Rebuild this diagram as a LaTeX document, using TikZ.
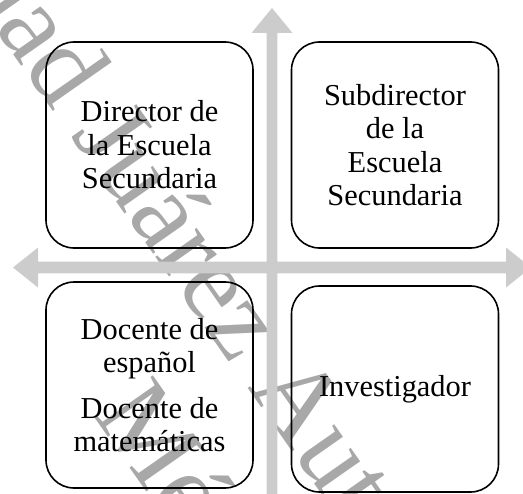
\documentclass[tikz,border=0pt]{standalone}
\usepackage{fontspec}
\setmainfont{Liberation Serif}
\definecolor{arrowgray}{RGB}{204,204,204}
\definecolor{wmgray}{RGB}{168,168,168}
\tikzset{
  quadbox/.style={draw=black, line width=1.6bp, rounded corners=28bp, minimum width=207bp, minimum height=206bp, align=center, inner sep=0pt, font=\fontsize{30.4bp}{33.5bp}\selectfont},
  wmark/.style={text=wmgray, rotate=-55, anchor=base west, inner sep=0pt, font=\fontsize{110bp}{120bp}\selectfont},
  crossarrow/.style={fill=arrowgray, draw=none}
}
\begin{document}
\begin{tikzpicture}[x=1bp, y=-1bp]
\useasboundingbox (0,0) rectangle (523,494);
\clip (0,0) rectangle (523,494);
% watermark
\node[wmark] (wm1) at (-254,-328) {Universidad Juárez Autónoma de Tabasco};
\node[wmark] (wm2) at (92,414) {México};
% cross arrows
\fill[crossarrow] (13,267.5) -- (38,247.5) -- (38,261.7) -- (266.7,261.7) -- (266.7,33) -- (251.5,33) -- (272,8) -- (292.5,33) -- (277.3,33) -- (277.3,261.7) -- (506,261.7) -- (506,247.5) -- (531,267.5) -- (506,287.5) -- (506,273.3) -- (277.3,273.3) -- (277.3,502) -- (292.5,502) -- (272,527) -- (251.5,502) -- (266.7,502) -- (266.7,273.3) -- (38,273.3) -- (38,287.5) -- cycle;
% boxes
\node[quadbox] (tl) at (149.5,145) {Director de\\la Escuela\\Secundaria};
\node[quadbox] (tr) at (395,145) {Subdirector\\de la\\Escuela\\Secundaria};
\node[quadbox] (bl) at (149.5,385) {Docente de\\español\\[12bp]Docente de\\matemáticas};
\node[quadbox] (br) at (395,389) {Investigador};
\end{tikzpicture}
\end{document}
